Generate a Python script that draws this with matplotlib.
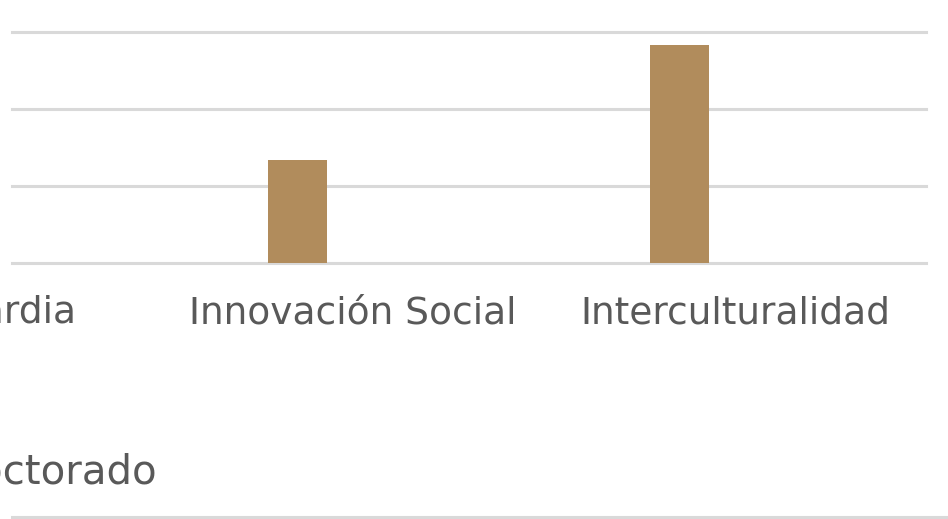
import numpy as np
import matplotlib.pyplot as plt

# datos
categorias = ["Vanguardia", "Innovación Social", "Interculturalidad"]
valores = [0.0, 1.34, 2.83]
titulo_siguiente = "Doctorado"

W, H = 948, 519
fig = plt.figure(figsize=(W / 100, H / 100), dpi=100)

# eje principal: gridlines de x=12 a x=926 px, base en y=263 px, tope en y=32 px
ax = fig.add_axes([12 / W, 1 - 263 / H, (926 - 12) / W, (263 - 32) / H])
x = np.arange(len(categorias))
ancho = 59 / 382
ax.bar(x - 0.145, valores, width=ancho, color="#B18C5C", zorder=3)
ax.set_xlim(-0.5 + 232 / 382, 2.5)
ax.set_ylim(0, 3)
ax.set_yticks([0, 1, 2, 3])
ax.yaxis.grid(True, color="#D9D9D9", linewidth=2.2)
for gl in ax.get_ygridlines():
    gl.set_clip_on(False)
ax.set_xticks([])
ax.tick_params(left=False, labelleft=False)
for s in ax.spines.values():
    s.set_visible(False)

# etiquetas de categoria (la primera queda cortada)
tr = ax.get_xaxis_transform()
for i, c in enumerate(categorias):
    ax.text(x[i], -50 / 231, c, transform=tr, ha="center", va="center",
            fontsize=27, color="#595959", clip_on=False)

# parte superior del siguiente grafico
fig.text(157 / W, 1 - 473 / H, titulo_siguiente, ha="right", va="center",
         fontsize=29, color="#595959")
fig.add_artist(plt.Line2D([12 / W, 1], [1 - 517 / H, 1 - 517 / H],
                          color="#D9D9D9", linewidth=2.2))

fig.savefig("out.png", dpi=100)
